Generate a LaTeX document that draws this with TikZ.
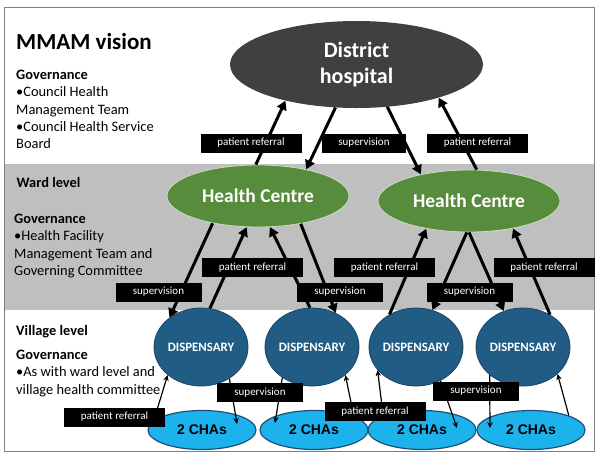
\documentclass[tikz,border=0pt]{standalone}
\usepackage{fontspec}
\setmainfont{Carlito}
\newfontfamily\arialf{Liberation Sans}
\usetikzlibrary{shapes.geometric,arrows.meta,calc}
\definecolor{hosp}{HTML}{404040}
\definecolor{hcgreen}{HTML}{568C3B}
\definecolor{dispblue}{HTML}{215C84}
\definecolor{dispedge}{HTML}{1A4566}
\definecolor{chablue}{HTML}{1CB3EC}
\definecolor{chaedge}{HTML}{1F4E79}
\definecolor{band}{HTML}{BFBFBF}
\definecolor{framec}{HTML}{7F7F7F}
\tikzset{
  hospital/.style={ellipse, fill=hosp, minimum width=253pt, minimum height=87pt, inner sep=0pt, text=white, align=center, font=\fontsize{22}{26.6}\selectfont\bfseries},
  hc/.style={ellipse, fill=hcgreen, draw=white!70!hcgreen, line width=0.8pt, minimum width=182pt, minimum height=62pt, inner sep=0pt, text=white, font=\fontsize{19.5}{23}\selectfont\bfseries},
  disp/.style={ellipse, fill=dispblue, draw=dispedge, line width=0.8pt, minimum width=94pt, minimum height=78pt, inner sep=0pt, text=white, font=\fontsize{12.8}{15}\selectfont\bfseries},
  cha/.style={ellipse, fill=chablue, draw=chaedge, line width=1.2pt, minimum width=108pt, minimum height=39pt, inner sep=0pt, font=\arialf\fontsize{14}{16}\selectfont\bfseries},
  lab/.style={fill=black, text=white, font=\fontsize{11}{13}\selectfont, minimum height=19pt, inner sep=0pt},
  prlab/.style={lab, minimum width=101pt},
  svlab/.style={lab, minimum width=86pt},
  big/.style={-{Triangle[length=9pt,width=10pt]}, line width=3pt},
  small/.style={-{Stealth[length=6pt,width=5.5pt]}, line width=1.2pt},
  lefttxt/.style={anchor=base west, inner sep=0pt, font=\fontsize{14.4}{17.4}\selectfont},
  leftbold/.style={lefttxt, font=\fontsize{14.4}{17.4}\selectfont\bfseries}
}
\begin{document}
\begin{tikzpicture}[x=1pt,y=-1pt]
\useasboundingbox (0,0) rectangle (600,456);
\fill[white] (0,0) rectangle (600,456);
\fill[band] (4.5,164) rectangle (594.5,310);
\draw[framec, line width=1pt] (4.5,7) rectangle (594.5,451);

% left column texts
\node[anchor=base west, inner sep=0pt, font=\fontsize{23}{27}\selectfont\bfseries] (title) at (16,49) {MMAM vision};
\node[leftbold] (g1) at (16,79.3) {Governance};
\node[lefttxt] (g1a) at (16,96.7) {•Council Health};
\node[lefttxt] (g1b) at (16,114.1) {Management Team};
\node[lefttxt] (g1c) at (16,131.5) {•Council Health Service};
\node[lefttxt] (g1d) at (16,148.9) {Board};

\node[leftbold] (ward) at (16.5,187.3) {Ward level};
\node[leftbold] (g2) at (14,223.3) {Governance};
\node[lefttxt] (g2a) at (14,240.8) {•Health Facility};
\node[lefttxt] (g2b) at (14,258.3) {Management Team and};
\node[lefttxt] (g2c) at (14,275.8) {Governing Committee};

\node[leftbold] (village) at (16,335) {Village level};
\node[leftbold] (g3) at (16,359.3) {Governance};
\node[lefttxt] (g3a) at (16,376.7) {•As with ward level and};
\node[lefttxt] (g3b) at (16,394.1) {village health committee};

% main nodes
\node[hospital] (hosp) at (356.5,64.5) {District\\hospital};
\node[hc] (hc1) at (258,196) {Health Centre};
\node[hc] (hc2) at (469,201) {Health Centre};
\node[disp] (d1) at (201,347) {DISPENSARY};
\node[disp] (d2) at (312,347) {DISPENSARY};
\node[disp] (d3) at (416,347) {DISPENSARY};
\node[disp] (d4) at (523,347) {DISPENSARY};
\node[cha] (c1) at (202,430) {2 CHAs};
\node[cha] (c2) at (314,430) {2 CHAs};
\node[cha] (c3) at (422,430) {2 CHAs};
\node[cha] (c4) at (531,430) {2 CHAs};

\coordinate (c1in) at ($(c1)+(35,-6)$);
\coordinate (c2in) at ($(c2)+(-39,-7)$);
\coordinate (c3in) at ($(c3)+(35,-2)$);
\coordinate (c4in) at ($(c4)+(-41,-2)$);

% hospital <-> health centres
\draw[big] (hc1.94) -- (hosp.207);
\draw[big] (hosp.244) -- (hc1.29);
\draw[big] (hosp.306) -- (hc2.151);
\draw[big] (hc2.76) -- (hosp.338);

% health centres <-> dispensaries
\draw[big] (hc1.211) -- (d1.137);
\draw[big] (d1.77) -- (hc1.250);
\draw[big] (d2.93) -- (hc1.291);
\draw[big] (hc1.327) -- (d2.55);
\draw[big] (d3.129) -- (hc2.213);
\draw[big] (hc2.266) -- (d3.66);
\draw[big] (hc2.270) -- (d4.118);
\draw[big] (d4.50) -- (hc2.328);

% dispensaries <-> CHAs
\draw[small] (c1.169) -- (d1.220);
\draw[small] (d1.312) -- (c1in);
\draw[small] (d2.226) -- (c2in);
\draw[small] (c2.19) -- (d2.320);
\draw[small] (c3.160) -- (d3.211);
\draw[small] (d3.306) -- (c3in);
\draw[small] (d4.220) -- (c4in);
\draw[small] (c4.21) -- (d4.322);

% labels
\node[prlab] (l1) at (251,143) {patient referral};
\node[svlab, minimum width=84pt] (l2) at (364,143) {supervision};
\node[prlab] (l3) at (477.5,143) {patient referral};
\node[svlab] (l4) at (158.5,292) {supervision};
\node[prlab] (l5) at (252.5,267.5) {patient referral};
\node[svlab] (l6) at (340,292) {supervision};
\node[prlab] (l7) at (384.5,267.5) {patient referral};
\node[svlab] (l8) at (469.5,292) {supervision};
\node[prlab] (l9) at (544,267.5) {patient referral};
\node[svlab] (l10) at (260,392.5) {supervision};
\node[prlab] (l11) at (114.5,417) {patient referral};
\node[prlab] (l12) at (375,411.5) {patient referral};
\node[svlab] (l13) at (476,391) {supervision};
\end{tikzpicture}
\end{document}
